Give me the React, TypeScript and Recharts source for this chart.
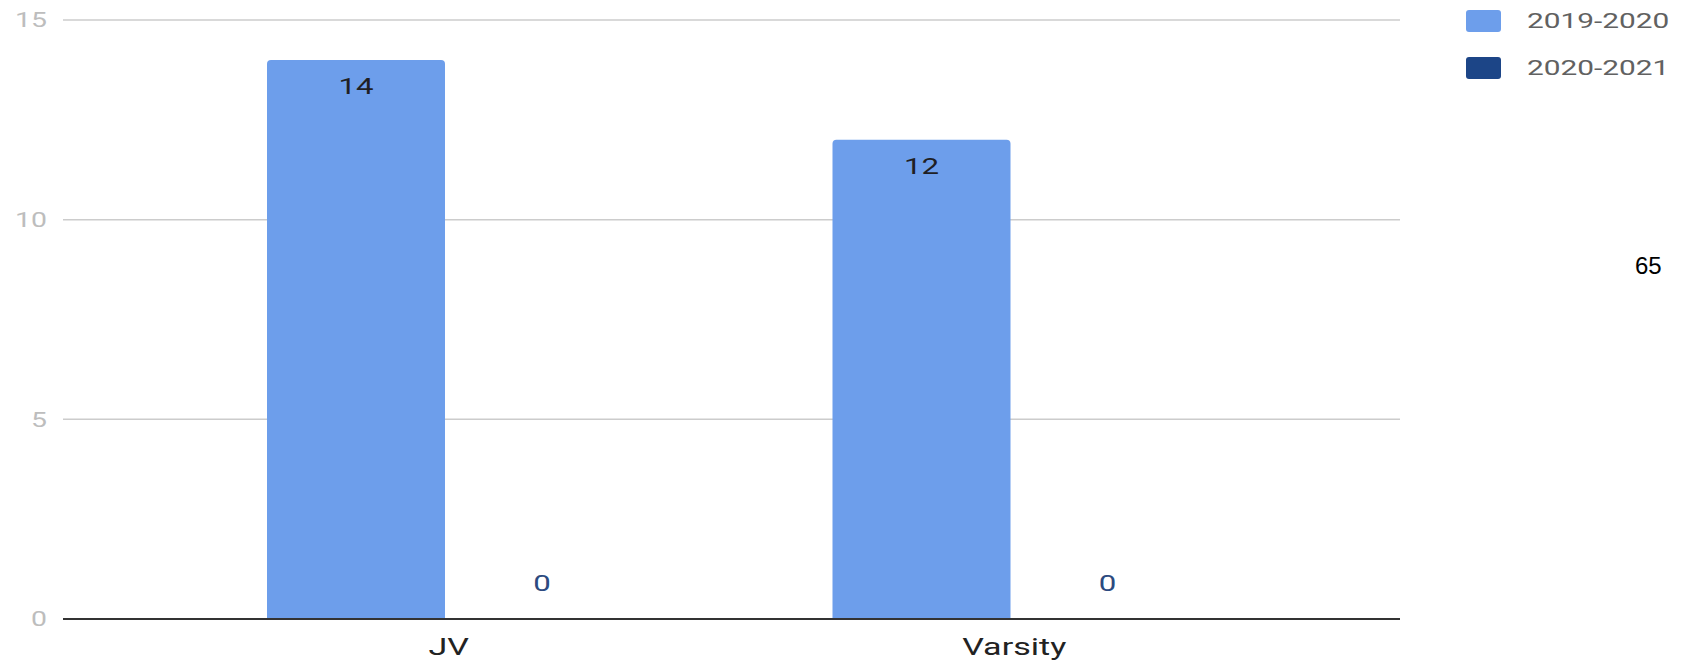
import { Bar, BarChart, CartesianGrid, LabelList, Legend, XAxis, YAxis } from 'recharts';

const categories = ['JV', 'Varsity'];
const season2019 = [14, 12];
const season2020 = [0, 0];
const seriesNames = ['2019-2020', '2020-2021'];
const yTicks = [0, 5, 10, 15];

const COLOR_2019 = '#6d9eeb';
const COLOR_2020 = '#1c4587';
const STRETCH = 1.42;
const FONT = 'Roboto, "Noto Sans", sans-serif';

const chartData = categories.map((name, i) => ({
  name,
  s2019: season2019[i],
  s2020: season2020[i],
}));

function XTick({ x, y, payload }: any) {
  return (
    <g transform={`translate(${x},${y})`}>
      <text
        transform={`scale(${STRETCH},1)`}
        y={36}
        textAnchor="middle"
        fontFamily={FONT}
        fontSize={24}
        fill="#222222"
      >
        {payload.value}
      </text>
    </g>
  );
}

function YTick({ x, y, payload }: any) {
  return (
    <g transform={`translate(${x},${y})`}>
      <text
        transform={`scale(${STRETCH},1)`}
        dy="0.36em"
        textAnchor="end"
        fontFamily={FONT}
        fontSize={20}
        fill="#bdbdbd"
      >
        {payload.value}
      </text>
    </g>
  );
}

function makeBarLabel(color: string) {
  return function BarLabel(props: any) {
    const { x, y, width, height, value } = props;
    const cx = Number(x) + Number(width) / 2;
    // zero-height bars get their label just above the baseline
    const ty = Number(value) === 0 ? Number(y) + Number(height) - 28 : Number(y) + 34;
    return (
      <g transform={`translate(${cx},${ty})`}>
        <text
          transform={`scale(${STRETCH},1)`}
          textAnchor="middle"
          fontFamily={FONT}
          fontSize={22}
          fill={color}
        >
          {value}
        </text>
      </g>
    );
  };
}

function LegendContent({ payload }: any) {
  return (
    <div style={{ display: 'flex', flexDirection: 'column' }}>
      {(payload || []).map((item: any) => (
        <div
          key={item.value}
          style={{ display: 'flex', alignItems: 'center', height: 22, marginBottom: 25 }}
        >
          <span
            style={{
              display: 'inline-block',
              width: 35,
              height: 22,
              borderRadius: 3,
              background: item.color,
            }}
          />
          <span
            style={{
              marginLeft: 26,
              fontFamily: FONT,
              fontSize: 21,
              lineHeight: '22px',
              color: '#616161',
              transform: `scaleX(${STRETCH})`,
              transformOrigin: 'left center',
              whiteSpace: 'nowrap',
            }}
          >
            {item.value}
          </span>
        </div>
      ))}
    </div>
  );
}

export default function App() {
  return (
    <div style={{ position: 'absolute', left: 0, top: 0, width: 1681, height: 661, background: '#fff' }}>
      <BarChart
        width={1681}
        height={661}
        data={chartData}
        margin={{ top: 20, right: 281, bottom: 0, left: 0 }}
        barSize={178}
        barGap={8}
      >
        <CartesianGrid vertical={false} stroke="#cccccc" strokeWidth={1.5} />
        <XAxis
          dataKey="name"
          padding={{ left: 103, right: 103 }}
          axisLine={{ stroke: '#333333', strokeWidth: 2 }}
          tickLine={false}
          tickSize={0}
          tickMargin={0}
          tick={<XTick />}
          height={42}
        />
        <YAxis
          domain={[0, 15]}
          ticks={yTicks}
          width={63}
          axisLine={false}
          tickLine={false}
          tickSize={0}
          tickMargin={16}
          tick={<YTick />}
        />
        <Legend
          layout="vertical"
          align="center"
          verticalAlign="middle"
          wrapperStyle={{ top: 10, left: 1466, width: 215 }}
          content={<LegendContent />}
        />
        <Bar
          dataKey="s2019"
          name={seriesNames[0]}
          fill={COLOR_2019}
          radius={[4, 4, 0, 0]}
          isAnimationActive={false}
        >
          <LabelList dataKey="s2019" content={makeBarLabel('#1f1f24')} />
        </Bar>
        <Bar
          dataKey="s2020"
          name={seriesNames[1]}
          fill={COLOR_2020}
          radius={[4, 4, 0, 0]}
          minPointSize={0.01}
          isAnimationActive={false}
        >
          <LabelList dataKey="s2020" content={makeBarLabel('#2c4a80')} />
        </Bar>
      </BarChart>
      <div
        style={{
          position: 'absolute',
          left: 1635,
          top: 254,
          fontFamily: 'Arial, "Liberation Sans", sans-serif',
          fontSize: 24,
          lineHeight: '24px',
          color: '#000',
        }}
      >
        65
      </div>
    </div>
  );
}
